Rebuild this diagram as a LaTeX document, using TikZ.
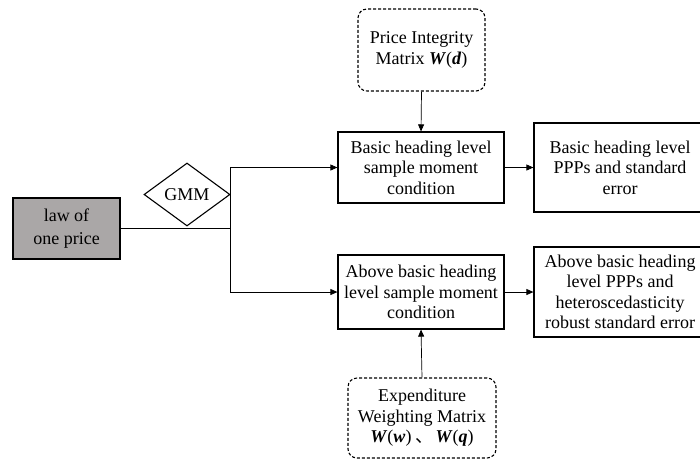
\documentclass[tikz,border=0pt]{standalone}
\usepackage{fontspec}
\setmainfont{Liberation Serif}
\newfontfamily\cjk{Noto Sans CJK SC}
\usetikzlibrary{arrows.meta,shapes.geometric}
\definecolor{boxgray}{RGB}{170,167,167}
\newcommand{\bw}[1]{\textbf{\textit{#1}}}
\begin{document}
\begin{tikzpicture}[x=1pt,y=-1pt,
  every node/.style={font=\fontsize{18}{20.5}\selectfont, align=center, inner sep=0pt},
  box/.style={draw, line width=1.2pt, rectangle},
  dbox/.style={draw, line width=1.1pt, dashed, dash pattern=on 3pt off 2pt, rounded corners=9pt},
  conn/.style={line width=0.7pt},
  arr/.style={conn, -{Triangle[length=7pt,width=6pt]}}]
\useasboundingbox (0,0) rectangle (700,459);
\node[box, fill=boxgray, minimum width=107pt, minimum height=61pt] (law) at (66.5,228.5) {law of\\[2pt]one price};
\node[draw, line width=1.1pt, diamond, aspect=1.37, minimum width=86pt, minimum height=63pt] (gmm) at (187,194.5) {GMM};
\node[box, minimum width=166pt, minimum height=71pt] (basic) at (421,167.5) {Basic heading level\\sample moment\\condition};
\node[box, minimum width=172pt, minimum height=89pt] (ppp1) at (620,167.5) {Basic heading level\\PPPs and standard\\error};
\node[dbox, minimum width=127pt, minimum height=82pt] (pim) at (421.5,50) {Price Integrity\\Matrix \bw{W}(\bw{d})};
\node[box, minimum width=166pt, minimum height=74pt] (above) at (421,292) {Above basic heading\\level sample moment\\condition};
\node[box, minimum width=172pt, minimum height=90pt] (ppp2) at (620,292) {Above basic heading\\level PPPs and\\heteroscedasticity\\robust standard error};
\node[dbox, minimum width=148pt, minimum height=80pt] (ewm) at (422,418) {Expenditure\\Weighting Matrix\\\bw{W}(\bw{w})\hspace{4pt}{\cjk 、}\hspace{2pt}\bw{W}(\bw{q})};
\coordinate (split) at (230,228.5);
\draw[conn] (law.east) -- (split);
\draw[arr] (split) |- (basic.west);
\draw[arr] (split) |- (above.west);
\draw[arr] (pim.south) -- (basic.north);
\draw[arr] (ewm.north) -- (above.south);
\draw[arr] (basic.east) -- (ppp1.west);
\draw[arr] (above.east) -- (ppp2.west);
\end{tikzpicture}
\end{document}
